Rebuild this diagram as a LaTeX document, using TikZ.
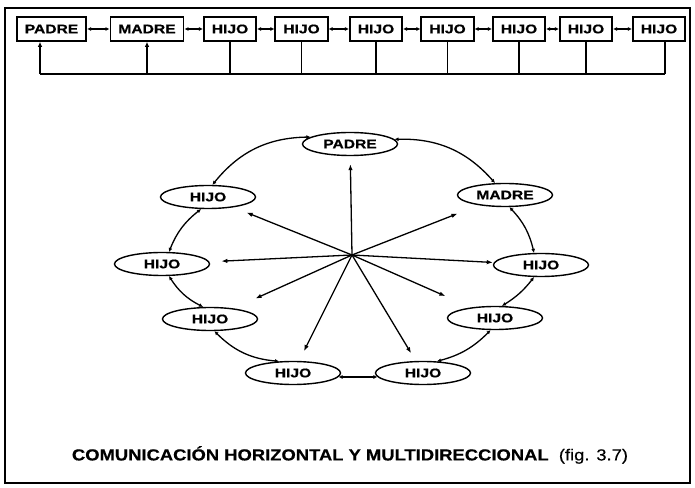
\documentclass[tikz,border=0pt]{standalone}
\usepackage{fontspec}
\usetikzlibrary{shapes.geometric,arrows.meta}
\newfontfamily\diafont[FakeStretch=1.25,FakeBold=0.6]{Liberation Sans}
\newfontfamily\capfont[FakeStretch=1.15,FakeBold=0.5]{Liberation Sans}
\tikzset{
  member/.style={draw,line width=1.6pt,font=\diafont\bfseries\fontsize{12.5}{14}\selectfont,
    minimum height=24pt,inner xsep=8pt,inner ysep=0pt},
  orb/.style={ellipse,draw,line width=1.4pt,font=\diafont\bfseries\fontsize{12.5}{14}\selectfont,
    minimum width=95pt,minimum height=23pt,inner sep=0pt},
  link/.style={line width=1.3pt,{Latex[length=4pt,width=4pt]}-{Latex[length=4pt,width=4pt]}},
  feed/.style={line width=1.3pt,-{Latex[length=5pt,width=4.5pt]}},
  spoke/.style={line width=1.3pt,-{Latex[length=6pt,width=4.5pt]}}
}
\begin{document}
\begin{tikzpicture}[x=1pt,y=1pt]
\useasboundingbox (0,0) rectangle (695,487);
\draw[line width=1.3pt] (5,4) rectangle (690,479);
% top row
\node[member] (tpadre) at (51.5,458) {PADRE};
\node[member] (tmadre) at (147,458) {MADRE};
\node[member] (t1) at (230,458) {HIJO};
\node[member] (t2) at (301.5,458) {HIJO};
\node[member] (t3) at (376,458) {HIJO};
\node[member] (t4) at (447.5,458) {HIJO};
\node[member] (t5) at (519,458) {HIJO};
\node[member] (t6) at (586,458) {HIJO};
\node[member] (t7) at (659,458) {HIJO};
\foreach \a/\b in {tpadre/tmadre,tmadre/t1,t1/t2,t2/t3,t3/t4,t4/t5,t5/t6,t6/t7}
  \draw[link] (\a) -- (\b);
\coordinate (busL) at (40,413);
\coordinate (busR) at (665,413);
\draw[line width=1.3pt] (busL) -- (busR);
\draw[feed] (busL) -- (busL |- tpadre.south);
\draw[feed] (tmadre.south |- busL) -- (tmadre.south);
\foreach \i in {1,...,6}
  \draw[line width=1.3pt] (t\i.south) -- (t\i.south |- busL);
\draw[line width=1.3pt] (busR) -- (busR |- t7.south);
% ring
\node[orb] (padre) at (350,343) {PADRE};
\node[orb] (madre) at (505,292) {MADRE};
\node[orb] (h1) at (208,290) {HIJO};
\node[orb] (h2) at (162,223) {HIJO};
\node[orb] (h3) at (210,168) {HIJO};
\node[orb] (h4) at (293,114) {HIJO};
\node[orb] (h5) at (423,114) {HIJO};
\node[orb] (h6) at (495,169) {HIJO};
\node[orb] (h7) at (541,222) {HIJO};
\draw[link] (padre.170) to[bend right=25] (h1.70);
\draw[link] (h1.240) to[bend right=15] (h2.60);
\draw[link] (h2.300) to[bend right=15] (h3.120);
\draw[link] (h3.290) to[bend right=20] (h4.140);
\draw[link] (h4.355) -- (h5.185);
\draw[link] (h5.40) to[bend right=15] (h6.250);
\draw[link] (h6.60) to[bend right=10] (h7.240);
\draw[link] (h7.120) to[bend right=15] (madre.290);
\draw[link] (madre.130) to[bend right=25] (padre.6);
\coordinate (hub) at (352,232);
\foreach \n/\s in {padre/8pt,h1/14pt,madre/23pt,h2/12pt,h7/1pt,h3/24pt,h6/28pt,h4/11pt,h5/9pt}
  \draw[spoke,shorten >=\s] (hub) -- (\n);
\node[font=\capfont\fontsize{16}{18}\selectfont] (caption) at (350,32)
  {\bfseries COMUNICACIÓN HORIZONTAL Y MULTIDIRECCIONAL\ \ \mdseries(fig. 3.7)};
\end{tikzpicture}
\end{document}
